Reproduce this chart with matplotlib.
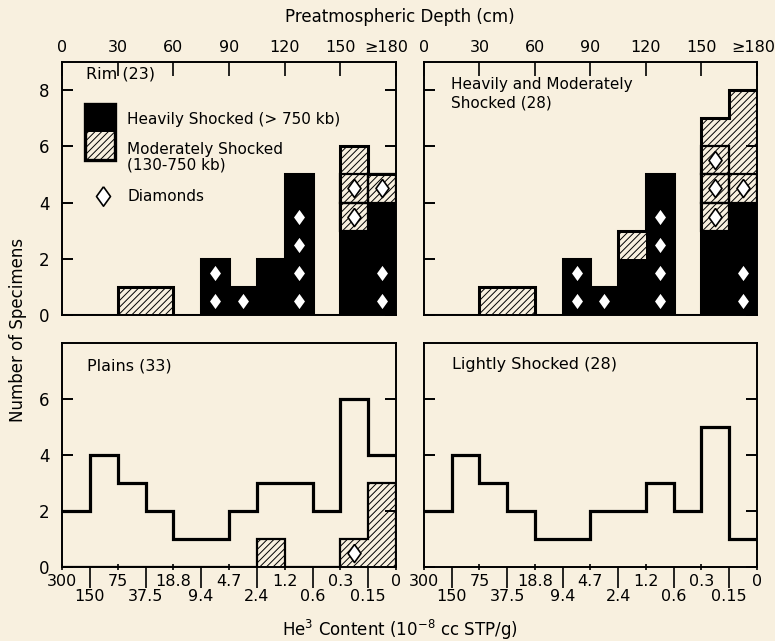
import numpy as np
import matplotlib
matplotlib.use("Agg")
import matplotlib.pyplot as plt
from matplotlib.patches import Rectangle

plt.rcParams['font.family'] = ['DejaVu Sans']
plt.rcParams['hatch.linewidth'] = 0.7

BG = '#f8f0df'
HATCH = '/////'
DIAMOND = [(0, 1), (0.72, 0), (0, -1), (-0.72, 0), (0, 1)]

# 12 bins, shared by both x scales
edges = np.arange(13)

depth_labels = ['0', '30', '60', '90', '120', '150', '≥180']
he_upper = ['300', '75', '18.8', '4.7', '1.2', '0.3', '0']      # even edges
he_lower = ['150', '37.5', '9.4', '2.4', '0.6', '0.15']          # odd edges

# Rim (23)
rim_heavy = [0, 0, 0, 0, 0, 2, 1, 2, 5, 0, 3, 4]
rim_moderate = [0, 0, 1, 1, 0, 0, 0, 0, 0, 0, 3, 1]
rim_dia_bin = [5, 5, 6, 8, 8, 8, 8, 10, 10, 11, 11, 11]
rim_dia_lvl = [0.5, 1.5, 0.5, 0.5, 1.5, 2.5, 3.5, 3.5, 4.5, 0.5, 1.5, 4.5]

# Heavily and Moderately Shocked (28)
hm_heavy = [0, 0, 0, 0, 0, 2, 1, 2, 5, 0, 3, 4]
hm_moderate = [0, 0, 1, 1, 0, 0, 0, 1, 0, 0, 4, 4]
hm_dia_bin = [5, 5, 6, 8, 8, 8, 8, 10, 10, 10, 11, 11, 11]
hm_dia_lvl = [0.5, 1.5, 0.5, 0.5, 1.5, 2.5, 3.5, 3.5, 4.5, 5.5, 0.5, 1.5, 4.5]

# Plains (33)
plains_total = [2, 4, 3, 2, 1, 1, 2, 3, 3, 2, 6, 4]
plains_moderate = [0, 0, 0, 0, 0, 0, 0, 1, 0, 0, 1, 3]
plains_dia_bin = [10]
plains_dia_lvl = [0.5]

# Lightly Shocked (28)
light_total = [2, 4, 3, 2, 1, 1, 2, 2, 3, 2, 5, 1]


def frame(ax, ymax, yticks, ylabels):
    ax.set_facecolor(BG)
    ax.set_xlim(0, 12)
    ax.set_ylim(0, ymax)
    for s in ax.spines.values():
        s.set_linewidth(1.4)
    ax.set_yticks(yticks)
    ax.set_yticklabels(yticks if ylabels else [])
    ax.tick_params(axis='y', direction='in', left=True, right=True,
                   length=8, width=1.4, labelsize=12, pad=9)


def top_axis(ax, last_shift):
    ax.set_xticks(edges[::2])
    ax.tick_params(axis='x', bottom=False, labelbottom=False, top=True,
                   labeltop=False, direction='in', length=10, width=1.2)
    # depth labels written above the ticks; the last one is nudged left
    for i, (x, lab) in enumerate(zip(edges[::2], depth_labels)):
        dx = last_shift if i == len(depth_labels) - 1 else 0
        ax.annotate(lab, xy=(x, 1), xycoords=('data', 'axes fraction'),
                    xytext=(dx, 5), textcoords='offset points',
                    ha='center', va='bottom', fontsize=11.5)


def bottom_axis(ax):
    ax.set_xticks(edges[1::2], labels=he_lower)
    ax.set_xticks(edges[::2], labels=he_upper, minor=True)
    ax.tick_params(axis='x', which='major', direction='out', length=15,
                   width=1.2, labelsize=11.5, pad=1)
    ax.tick_params(axis='x', which='minor', direction='inout', length=5,
                   width=1.2, labelsize=11.5, pad=2.5)


def diamonds(ax, bins, lvls, size=13):
    ax.plot(np.array(bins) + 0.5, lvls, linestyle='none', marker=DIAMOND,
            markersize=size, markerfacecolor='white',
            markeredgecolor='black', markeredgewidth=1.2)


def shocked(ax, heavy, moderate, dia_bin, dia_lvl):
    heavy = np.array(heavy)
    moderate = np.array(moderate)
    ax.bar(edges[:-1], heavy, width=1, align='edge', color='black',
           linewidth=0)
    ax.bar(edges[:-1], moderate, width=1, bottom=heavy, align='edge',
           facecolor='none', edgecolor='black', hatch=HATCH, linewidth=0)
    ax.stairs(heavy + moderate, edges, baseline=0, color='black', lw=2.2)
    for b, l in zip(dia_bin, dia_lvl):
        if l > heavy[b]:
            ax.add_patch(Rectangle((b, l - 0.5), 1, 1, facecolor='none',
                                   edgecolor='black', lw=1.6))
    diamonds(ax, dia_bin, dia_lvl)


fig = plt.figure(figsize=(7.75, 6.41), dpi=100)
fig.patch.set_facecolor(BG)

ax_rim = fig.add_axes([0.080, 0.5086, 0.431, 0.3947])
ax_hm = fig.add_axes([0.547, 0.5086, 0.4297, 0.3947])
ax_pl = fig.add_axes([0.080, 0.1154, 0.431, 0.3495])
ax_li = fig.add_axes([0.547, 0.1154, 0.4297, 0.3495])

frame(ax_rim, 9, [0, 2, 4, 6, 8], True)
frame(ax_hm, 9, [0, 2, 4, 6, 8], False)
frame(ax_pl, 8, [0, 2, 4, 6], True)
frame(ax_li, 8, [0, 2, 4, 6], False)
top_axis(ax_rim, -7)
top_axis(ax_hm, -3)
bottom_axis(ax_pl)
bottom_axis(ax_li)

shocked(ax_rim, rim_heavy, rim_moderate, rim_dia_bin, rim_dia_lvl)
shocked(ax_hm, hm_heavy, hm_moderate, hm_dia_bin, hm_dia_lvl)

# Plains: outline histogram plus moderately shocked part
ax_pl.bar(edges[:-1], plains_moderate, width=1, align='edge',
          facecolor='none', edgecolor='black', hatch=HATCH, linewidth=0)
ax_pl.stairs(plains_moderate, edges, baseline=0, color='black', lw=1.6)
ax_pl.stairs(plains_total, edges, baseline=None, color='black', lw=2.3)
diamonds(ax_pl, plains_dia_bin, plains_dia_lvl)

ax_li.stairs(light_total, edges, baseline=None, color='black', lw=2.3)

# panel titles
ax_rim.text(0.072, 0.953, 'Rim (23)', transform=ax_rim.transAxes,
            fontsize=11.5, va='center')
ax_hm.text(0.081, 0.875, 'Heavily and Moderately\nShocked (28)',
           transform=ax_hm.transAxes, fontsize=11, va='center',
           linespacing=1.25)
ax_pl.text(0.075, 0.897, 'Plains (33)', transform=ax_pl.transAxes,
           fontsize=11.5, va='center')
ax_li.text(0.084, 0.906, 'Lightly Shocked (28)', transform=ax_li.transAxes,
           fontsize=11.5, va='center')

# legend drawn in the Rim panel
tr = ax_rim.transAxes
ax_rim.add_patch(Rectangle((0.069, 0.611), 0.09, 0.111, transform=tr,
                           facecolor='none', edgecolor='black', hatch=HATCH,
                           linewidth=0))
ax_rim.add_patch(Rectangle((0.069, 0.722), 0.09, 0.111, transform=tr,
                           facecolor='black', edgecolor='black', lw=0))
ax_rim.add_patch(Rectangle((0.069, 0.611), 0.09, 0.222, transform=tr,
                           facecolor='none', edgecolor='black', lw=2.4))
ax_rim.text(0.195, 0.771, 'Heavily Shocked (> 750 kb)', transform=tr,
            fontsize=11, va='center')
ax_rim.text(0.195, 0.625, 'Moderately Shocked\n(130-750 kb)', transform=tr,
            fontsize=11, va='center', linespacing=1.05)
ax_rim.plot([0.123], [0.47], transform=tr, marker=DIAMOND, markersize=14,
            markerfacecolor='white', markeredgecolor='black',
            markeredgewidth=1.2, linestyle='none')
ax_rim.text(0.195, 0.47, 'Diamonds', transform=tr, fontsize=11,
            va='center')

fig.text(0.516, 0.973, 'Preatmospheric Depth (cm)', ha='center',
         va='center', fontsize=12)
fig.text(0.516, 0.017, 'He$^3$ Content (10$^{-8}$ cc STP/g)', ha='center',
         va='center', fontsize=12)
fig.text(0.023, 0.485, 'Number of Specimens', rotation=90, ha='center',
         va='center', fontsize=12)

fig.savefig('out.png', dpi=100, facecolor=BG)
